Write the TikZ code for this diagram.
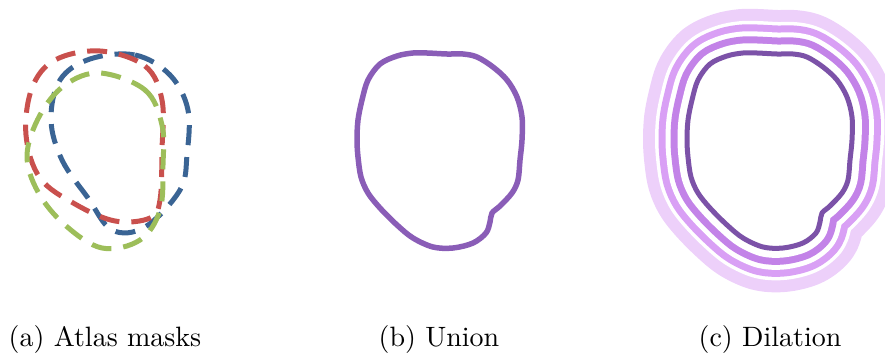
\documentclass[tikz,border=0pt]{standalone}
\usepackage{xcolor}
\definecolor{mred}{HTML}{C9504D}
\definecolor{mblue}{HTML}{3A6494}
\definecolor{mgreen}{HTML}{9DBE5A}
\definecolor{upurple}{HTML}{8A5DB7}
\definecolor{inpurple}{HTML}{7C52A8}
\definecolor{ringa}{HTML}{C383E8}
\definecolor{ringb}{HTML}{D9A0F5}
\definecolor{ringc}{HTML}{EDD0FA}
\tikzset{
  maskline/.style={line width=5pt, dash pattern=on 20pt off 12pt, line cap=butt},
  caption/.style={font=\fontsize{10}{12}\selectfont, anchor=base, scale=2.8, transform shape},
}
\def\unioncurve{plot[smooth cycle, tension=0.55] coordinates {(427,53) (447,54) (463,54) (477,57) (493,67) (507,80) (517,97) (522,117) (522,140) (520,160) (518,180) (512,193) (500,206) (492,213) (490,222) (486,233) (473,243) (453,248) (433,247) (413,238) (397,225) (380,208) (368,193) (361,177) (358,157) (357,140) (358,120) (362,100) (368,80) (380,64) (397,56) (413,53)}}
\begin{document}
\begin{tikzpicture}[x=1pt,y=-1pt, line join=round]
\useasboundingbox (0,0) rectangle (885,356);
\clip (0,0) rectangle (885,356);
% (a) atlas masks
\draw[maskline, mblue] plot[smooth cycle, tension=0.6] coordinates {(90,59) (135,55) (170,75) (188,110) (187,155) (180,190) (145,227) (112,230) (88,198) (62,160) (51,120) (60,80)};
\draw[maskline, mred] plot[smooth cycle, tension=0.6] coordinates {(100,51) (145,66) (162,100) (162,150) (160,200) (150,218) (115,221) (75,204) (40,178) (26,135) (32,88) (55,60)};
\draw[maskline, mgreen] plot[smooth cycle, tension=0.6] coordinates {(100,73) (145,90) (162,125) (163,165) (160,210) (140,240) (102,248) (65,225) (38,192) (27,155) (40,115) (65,85)};
% (b) union
\draw[upurple, line width=5.5pt] \unioncurve;
% (c) dilation
\begin{scope}[xshift=330pt]
\draw[ringc, line width=88pt] \unioncurve;
\draw[white, line width=64pt] \unioncurve;
\draw[ringb, line width=57pt] \unioncurve;
\draw[white, line width=43pt] \unioncurve;
\draw[ringa, line width=33pt] \unioncurve;
\draw[white, line width=19pt] \unioncurve;
\fill[white] \unioncurve;
\draw[inpurple, line width=5pt] \unioncurve;
\end{scope}
% captions
\node[caption] (capa) at (105,346) {(a) Atlas masks};
\node[caption] (capb) at (439,346) {(b) Union};
\node[caption] (capc) at (770,346) {(c) Dilation};
\end{tikzpicture}
\end{document}
